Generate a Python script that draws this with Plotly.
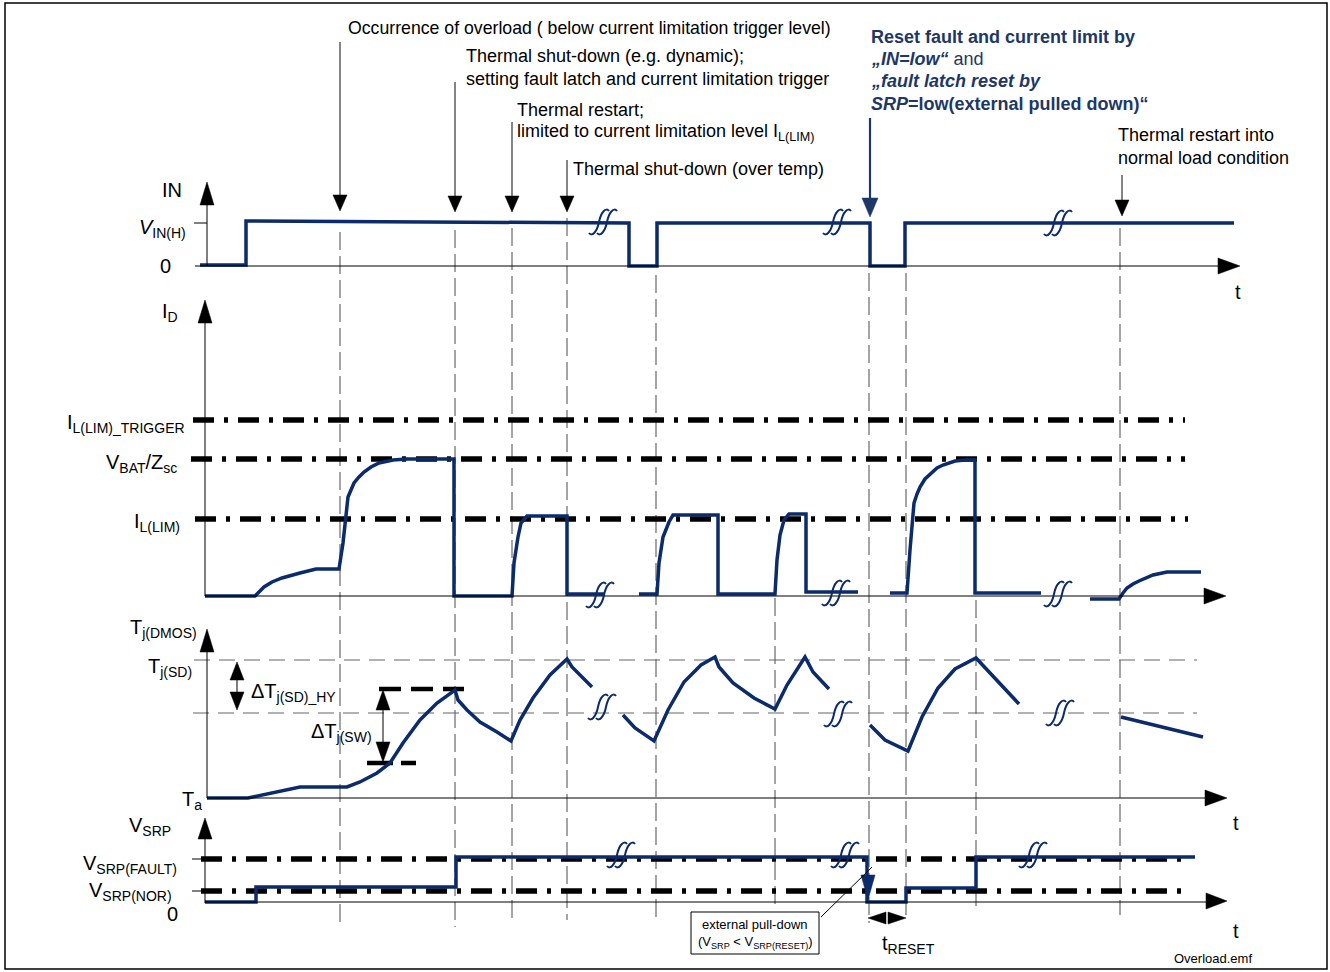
import plotly.graph_objects as go

FONT = "Liberation Sans, Arial, Helvetica, sans-serif"
NAVY = "#0b2b6b"
TNAVY = "#1d3766"
GUIDE = "#4a4a4a"

# ---------------- signal data (time position, level position) ----------------
in_t = [200, 246, 246, 408, 629, 629, 657, 657, 870, 870, 905, 905, 1234]
in_v = [265, 265, 221, 222, 223, 266, 266, 223, 223, 266, 266, 223, 223]

id1_t = [205, 255, 260, 264, 272, 282, 300, 316, 339, 343, 348, 351, 354, 359, 364, 371, 379, 393, 407, 454, 454,
         512, 514, 518, 521, 527, 567, 567, 605]
id1_v = [596, 596, 591, 587, 582, 578, 573, 569, 569, 543, 497, 489, 483, 477, 472, 467, 463, 460, 459, 459, 596,
         596, 563, 537, 523, 516, 516, 594, 594]
id2_t = [639, 657, 659, 663, 669, 673, 718, 718, 775, 777, 780, 784, 789, 806, 806, 858]
id2_v = [594, 594, 563, 537, 522, 515, 515, 594, 594, 560, 535, 520, 514, 514, 592, 592]
id3_t = [890, 907, 910, 914, 917, 920, 925, 931, 937, 943, 955, 965, 975, 975, 1041]
id3_v = [593, 593, 550, 503, 494, 487, 479, 473, 468, 465, 461, 460, 460, 593, 593]
id4_t = [1090, 1119, 1123, 1127, 1133, 1139, 1153, 1167, 1201]
id4_v = [599, 599, 593, 588, 584, 581, 575, 572, 572]

tj1_t = [207, 248, 300, 347, 360, 377, 390, 403, 420, 437, 455, 458, 467, 480, 497, 511,
         520, 533, 550, 567, 572, 582, 592]
tj1_v = [798, 798, 787, 787, 782, 773, 763, 743, 720, 703, 690, 700, 710, 722, 732, 741,
         720, 698, 675, 659, 667, 677, 687]
tj2_t = [623, 635, 654, 668, 684, 701, 715, 719, 733, 754, 775, 787, 805, 813, 829]
tj2_v = [715, 728, 741, 710, 682, 665, 657, 667, 683, 698, 709, 685, 657, 672, 689]
tj3_t = [870, 885, 908, 922, 938, 955, 976, 1019]
tj3_v = [725, 740, 751, 717, 688, 669, 658, 704]
tj4_t = [1121, 1203]
tj4_v = [717, 737]

srp_t = [205, 256, 256, 456, 456, 867, 867, 906, 906, 976, 976, 1195]
srp_v = [902, 902, 887, 887, 857, 857, 902, 902, 888, 888, 857, 857]

# threshold levels: (y, x_start, x_end)
dd_levels = [(420, 193, 1185), (459, 191, 1185), (519, 195, 1188),
             (859, 201, 1182), (891, 201, 1182)]
tj_levels = [(660, 194, 1197), (713, 193, 1197)]

# event guides: (x, y_top, y_bottom)
guides = [(340, 232, 928), (455, 230, 927), (512, 228, 920), (567, 218, 920),
          (656, 275, 922), (775, 598, 910), (869, 273, 923), (906, 273, 917),
          (976, 600, 910), (1120, 228, 915)]

# break marks: (x, y)
breaks = [(603, 222), (837, 222), (1058, 223),
          (600, 595), (836, 593), (1058, 594),
          (602, 707), (838, 714), (1060, 713),
          (621, 855), (845, 855), (1033, 855)]

fig = go.Figure()
shapes = []
ann = []


def line(x0, y0, x1, y1, color="black", width=1, dash=None, layer="above"):
    d = dict(type="line", x0=x0, y0=y0, x1=x1, y1=y1, xref="x", yref="y",
             line=dict(color=color, width=width), layer=layer)
    if dash:
        d["line"]["dash"] = dash
    shapes.append(d)


def tri(xt, yt, direction, length, half, color="black"):
    if direction == "up":
        p = f"M {xt},{yt} L {xt-half},{yt+length} L {xt+half},{yt+length} Z"
    elif direction == "down":
        p = f"M {xt},{yt} L {xt-half},{yt-length} L {xt+half},{yt-length} Z"
    elif direction == "right":
        p = f"M {xt},{yt} L {xt-length},{yt-half} L {xt-length},{yt+half} Z"
    else:
        p = f"M {xt},{yt} L {xt+length},{yt-half} L {xt+length},{yt+half} Z"
    shapes.append(dict(type="path", path=p, xref="x", yref="y",
                       fillcolor=color, line=dict(color=color, width=0.5)))


def brk(cx, cy):
    for dx in (-4, 4):
        x = cx + dx
        p = (f"M {x+10},{cy-11} C {x+7},{cy-15} {x+2},{cy-10} {x},{cy} "
             f"C {x-2},{cy+10} {x-7},{cy+15} {x-10},{cy+11}")
        shapes.append(dict(type="path", path=p, xref="x", yref="y",
                           line=dict(color=NAVY, width=2)))


def text(x, y, s, size=20, anchor="left", color="black", va="middle"):
    ann.append(dict(x=x, y=y, xref="x", yref="y", text=s, showarrow=False,
                    xanchor=anchor, yanchor=va,
                    font=dict(family=FONT, size=size, color=color)))


def trace(t, v, color=NAVY, width=3.5, dash=None):
    ln = dict(color=color, width=width)
    if dash:
        ln["dash"] = dash
    fig.add_trace(go.Scatter(x=t, y=v, mode="lines", line=ln,
                             hoverinfo="skip", showlegend=False))


# outer frame
shapes.append(dict(type="rect", x0=5, y0=3, x1=1327, y1=969, xref="x", yref="y",
                   line=dict(color="black", width=1.5), layer="below"))

# guides
for gx, gy0, gy1 in guides:
    line(gx, gy0, gx, gy1, color=GUIDE, width=1, dash="18px,6px", layer="below")

# Tj thin dashed levels
for ly, lx0, lx1 in tj_levels:
    line(lx0, ly, lx1, ly, color="#666666", width=1.2, dash="16px,9px", layer="below")

# axes
# IN
line(207, 266, 207, 204)
tri(207, 182, "up", 23, 7)
line(195, 266, 1220, 266)
tri(1240, 266, "right", 22, 8)
line(194, 223, 207, 223)
# ID
line(205, 596, 205, 321)
tri(205, 300, "up", 23, 7)
line(205, 596, 1205, 596)
tri(1226, 596, "right", 22, 8)
# Tj
line(207, 798, 207, 651)
tri(207, 629, "up", 23, 7)
line(207, 798, 1207, 798)
tri(1227, 798, "right", 22, 8)
# SRP
line(205, 903, 205, 838)
tri(205, 818, "up", 21, 7)
line(205, 902, 1207, 902)
tri(1227, 901, "right", 21, 8)
line(192, 859, 205, 859)
line(192, 891, 205, 891)

# Tj hysteresis markers
trace([379, 464], [689, 689], color="black", width=4.5, dash="22px,10px")
trace([367, 416], [763, 763], color="black", width=4.5, dash="26px,8px")
line(237, 672, 237, 700)
tri(237, 662, "up", 18, 7)
tri(237, 710, "down", 18, 7)
line(383, 705, 383, 748)
tri(383, 690, "up", 20, 7)
tri(383, 762, "down", 20, 7)

# dash-dot levels
for ly, lx0, lx1 in dd_levels:
    trace([lx0, lx1], [ly, ly], color="black", width=5.5, dash="21px,10px,4px,10px")

# signals
trace(in_t, in_v)
for t, v in [(id1_t, id1_v), (id2_t, id2_v), (id3_t, id3_v), (id4_t, id4_v)]:
    trace(t, v)
for t, v in [(tj1_t, tj1_v), (tj2_t, tj2_v), (tj3_t, tj3_v), (tj4_t, tj4_v)]:
    trace(t, v)
trace(srp_t, srp_v)

for bx, by in breaks:
    brk(bx, by)

# top annotation arrows
for ax, ay0, ay1 in [(340, 42, 211), (455, 82, 212), (512, 122, 212),
                     (567, 160, 212), (1122, 175, 216)]:
    line(ax, ay0, ax, ay1 - 14, color="#333333", width=1.2)
    tri(ax, ay1, "down", 16, 7)
line(870, 118, 870, 200, color=TNAVY, width=2.2)
tri(870, 217, "down", 19, 8, color=TNAVY)

# SRP reset arrow, leader and callout
tri(868, 900, "down", 25, 7, color=NAVY)
line(872, 867, 821, 917, color="black", width=1)
shapes.append(dict(type="rect", x0=691, y0=912, x1=819, y1=954, xref="x", yref="y",
                   line=dict(color="black", width=1), fillcolor="white"))
tri(868, 918, "left", 18, 6)
tri(906, 918, "right", 18, 6)

# ---------- texts ----------
S = 18
text(346, 28, "Occurrence of overload ( below current limitation trigger level)", 17.7)
text(464, 56, "Thermal shut-down (e.g. dynamic);", S)
text(464, 79, "setting fault latch and current limitation trigger", S)
text(515, 110, "Thermal restart;", S)
text(515, 132, "limited to current limitation level I<sub>L(LIM)</sub>", S)
text(571, 169, "Thermal shut-down (over temp)", S)
text(1116, 135, "Thermal restart into", S)
text(1116, 158, "normal load condition", S)

text(869, 37, "<b>Reset fault and current limit by</b>", 18, color=TNAVY)
text(869, 59, "<b><i>„IN=low“</i></b> and", 18, color=TNAVY)
text(869, 81, "<b><i>„fault latch reset by</i></b>", 18, color=TNAVY)
text(869, 104, "<b><i>SRP</i>=low(external pulled down)“</b>", 18, color=TNAVY)

text(184, 190, "IN", 20, anchor="right")
text(188, 228, "<i>V</i><sub>IN(H)</sub>", 20, anchor="right")
text(173, 266, "0", 20, anchor="right")
text(1238, 292, "t", 20, anchor="center")

text(180, 312, "I<sub>D</sub>", 20, anchor="right")
text(187, 423, "I<sub>L(LIM)_TRIGGER</sub>", 20, anchor="right")
text(179, 463, "V<sub>BAT</sub>/Z<sub>sc</sub>", 20, anchor="right")
text(182, 522, "I<sub>L(LIM)</sub>", 20, anchor="right")

text(199, 628, "T<sub>j(DMOS)</sub>", 20, anchor="right")
text(194, 667, "T<sub>j(SD)</sub>", 20, anchor="right")
text(204, 800, "T<sub>a</sub>", 20, anchor="right")
text(249, 692, "ΔT<sub>j(SD)_HY</sub>", 20)
text(374, 732, "ΔT<sub>j(SW)</sub>", 20, anchor="right")
text(1236, 823, "t", 20, anchor="center")

text(173, 826, "V<sub>SRP</sub>", 20, anchor="right")
text(179, 864, "V<sub>SRP(FAULT)</sub>", 20, anchor="right")
text(174, 891, "V<sub>SRP(NOR)</sub>", 20, anchor="right")
text(180, 914, "0", 20, anchor="right")
text(1236, 931, "t", 20, anchor="center")
text(880, 944, "t<sub>RESET</sub>", 20)
text(755, 924, "external pull-down", 13, anchor="center")
text(755, 942, "(V<sub>SRP</sub> &lt; V<sub>SRP(RESET)</sub>)", 13, anchor="center")
text(1172, 958, "Overload.emf", 13)

fig.update_layout(
    width=1330, height=972,
    margin=dict(l=0, r=0, t=0, b=0),
    paper_bgcolor="white", plot_bgcolor="white",
    xaxis=dict(range=[0, 1330], visible=False, fixedrange=True),
    yaxis=dict(range=[972, 0], visible=False, fixedrange=True),
    shapes=shapes, annotations=ann, showlegend=False,
)

fig.write_html("out.html", config={"displayModeBar": False},
               post_script="document.body.style.margin='0';")
